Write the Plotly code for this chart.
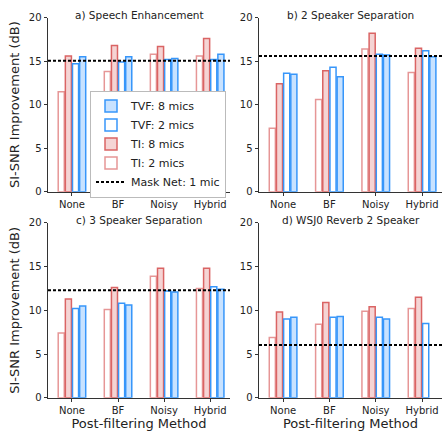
import plotly.graph_objects as go

categories = ["None", "BF", "Noisy", "Hybrid"]
titles = ["a) Speech Enhancement", "b) 2 Speaker Separation",
          "c) 3 Speaker Separation", "d) WSJ0 Reverb 2 Speaker"]

ti2 = [[11.5, 13.8, 15.8, 15.6], [7.3, 10.6, 16.4, 13.7],
       [7.4, 10.1, 13.9, 12.5], [6.9, 8.4, 9.9, 10.2]]
ti8 = [[15.6, 16.8, 16.7, 17.6], [12.4, 13.9, 18.2, 16.5],
       [11.3, 12.6, 14.8, 14.8], [9.8, 10.9, 10.4, 11.5]]
tvf2 = [[14.7, 14.9, 15.2, 15.2], [13.6, 14.3, 15.8, 16.2],
        [10.2, 10.8, 12.2, 12.7], [9.0, 9.2, 9.2, 8.5]]
tvf8 = [[15.5, 15.5, 15.3, 15.8], [13.5, 13.2, 15.7, 15.5],
        [10.5, 10.6, 12.1, 12.4], [9.2, 9.3, 9.0, None]]
mask_net = [15.05, 15.6, 12.3, 6.05]

RED = "rgb(218,100,100)"
RED_L = "rgb(230,150,150)"
BLUE = "rgb(55,150,250)"
series = [
    ("TI: 2 mics", ti2, "rgb(255,255,255)", RED_L, 4),
    ("TI: 8 mics", ti8, "rgb(245,212,212)", RED, 3),
    ("TVF: 2 mics", tvf2, "rgb(255,255,255)", BLUE, 2),
    ("TVF: 8 mics", tvf8, "rgb(200,226,255)", BLUE, 1),
]

W, H = 442, 433
xdoms = [(48 / W, 230 / W), (259 / W, 1.0)]
ydoms = [(1 - 191 / H, 1 - 12 / H), (1 - 403 / H, 1 - 223 / H)]

fig = go.Figure()
font = dict(family="DejaVu Sans", size=10, color="#222")
layout = dict(
    width=W, height=H, margin=dict(l=0, r=0, t=0, b=0),
    paper_bgcolor="white", plot_bgcolor="white",
    barmode="group", bargap=0.38, bargroupgap=0.15,
    font=font, showlegend=True,
    legend=dict(x=90 / W, y=1 - 87 / H, xanchor="left", yanchor="top",
                bgcolor="white", bordercolor="#bbb", borderwidth=1,
                font=dict(family="DejaVu Sans", size=11, color="#222"),
                tracegroupgap=0, itemwidth=30),
)
shapes = []
annotations = []
for p in range(4):
    r, c = divmod(p, 2)
    idx = p + 1
    xa = "x" if idx == 1 else f"x{idx}"
    ya = "y" if idx == 1 else f"y{idx}"
    for name, data, fill, edge, rank in series:
        fig.add_trace(go.Bar(
            x=categories, y=data[p], name=name, legendgroup=name,
            showlegend=(p == 0), legendrank=rank,
            marker=dict(color=fill, line=dict(color=edge, width=1.5)),
            xaxis=xa, yaxis=ya))
    layout[f"xaxis{'' if idx == 1 else idx}"] = dict(
        domain=xdoms[c], anchor=ya, type="category",
        categoryorder="array", categoryarray=categories,
        range=[-0.52, 3.43], showline=True, linecolor="#333", linewidth=1,
        ticks="outside", ticklen=3, tickcolor="#333", showgrid=False,
        tickfont=dict(family="DejaVu Sans", size=10, color="#222"),
        title=dict(text="Post-filtering Method" if r == 1 else "",
                   font=dict(family="DejaVu Sans", size=13, color="#222"),
                   standoff=4))
    layout[f"yaxis{'' if idx == 1 else idx}"] = dict(
        domain=ydoms[r], anchor=xa, range=[0, 20],
        tickvals=[0, 5, 10, 15, 20], showline=True, linecolor="#333",
        linewidth=1, ticks="outside", ticklen=3.5, tickcolor="#333",
        showgrid=False, zeroline=False,
        tickfont=dict(family="DejaVu Sans", size=10, color="#222"),
        title=dict(text="SI-SNR Improvement (dB)" if c == 0 else "",
                   font=dict(family="DejaVu Sans", size=13, color="#222"),
                   standoff=6))
    shapes.append(dict(type="line", xref=f"{xa} domain", yref=ya,
                       x0=0, x1=1, y0=mask_net[p], y1=mask_net[p],
                       line=dict(color="black", width=2, dash="3px,2px")))
    annotations.append(dict(text=titles[p], xref=f"{xa} domain",
                            yref=f"{ya} domain", x=0.5, y=1.0,
                            xanchor="center", yanchor="middle", yshift=3,
                            showarrow=False,
                            font=dict(family="DejaVu Sans", size=10.5,
                                      color="#222")))

fig.add_trace(go.Scatter(x=[None], y=[None], mode="lines",
                         name="Mask Net: 1 mic", legendrank=5,
                         line=dict(color="black", width=2, dash="3px,2px")))
layout["shapes"] = shapes
layout["annotations"] = annotations
fig.update_layout(**layout)
fig.write_html("out.html")
